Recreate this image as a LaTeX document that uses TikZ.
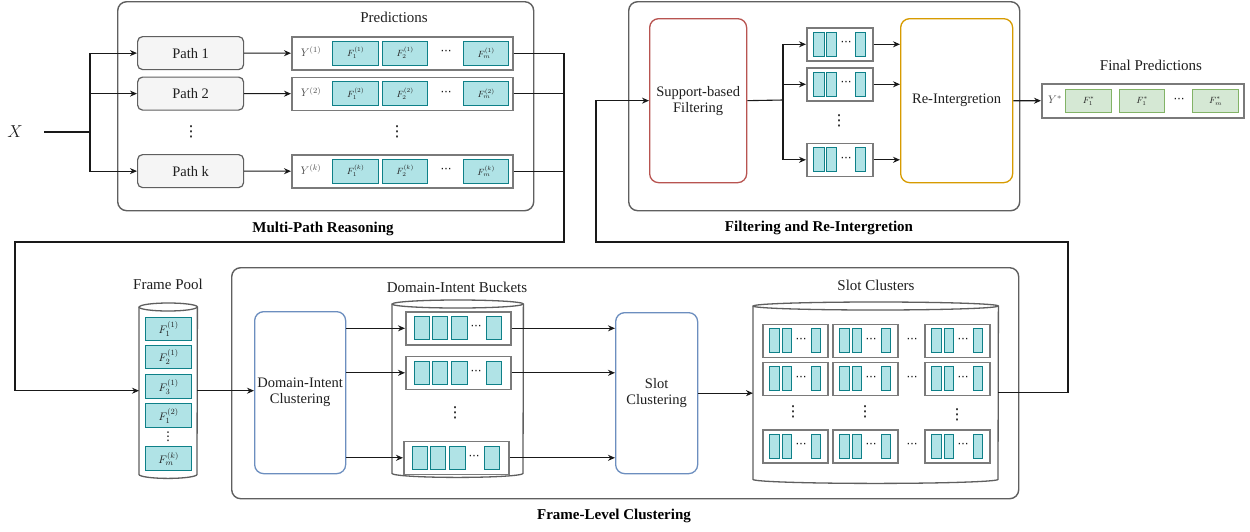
\documentclass[tikz,border=0pt]{standalone}
\usepackage{fontspec}
\setmainfont{Liberation Serif}
\newfontfamily\dejavu{DejaVu Sans}
\usetikzlibrary{arrows.meta}
\definecolor{grp}{HTML}{5F5F5F}
\definecolor{rowc}{HTML}{7A7A7A}
\definecolor{tealf}{HTML}{B0E3E6}
\definecolor{teald}{HTML}{0E8088}
\definecolor{grnf}{HTML}{D5E8D4}
\definecolor{grnd}{HTML}{82B366}
\definecolor{redd}{HTML}{B85450}
\definecolor{orad}{HTML}{D79B00}
\definecolor{blud}{HTML}{6C8EBF}
\definecolor{grayf}{HTML}{F5F5F5}
\newcommand\mybox[7]{\node[#6, anchor=north west, minimum width={((#4)-(#2))*1pt}, minimum height={((#5)-(#3))*1pt}, inner sep=0pt] (#1) at ({#2},{#3}) {#7};}
\newcommand\cyl[3]{%
\draw[cylst] (#1.north west) -- (#1.south west) arc[start angle=180,end angle=360,x radius=#2pt,y radius=#3pt] -- (#1.north east) arc[start angle=0,end angle=180,x radius=#2pt,y radius=#3pt] -- cycle;
\draw[cylst,fill=none] (#1.north west) arc[start angle=180,end angle=360,x radius=#2pt,y radius=#3pt];}
\begin{document}
\begin{tikzpicture}[x=1pt,y=-1pt,
 every node/.style={font=\fontsize{14.5}{16}\selectfont, text=black!88},
 group/.style={draw=grp, line width=1.4pt, rounded corners=9pt},
 pathbox/.style={draw=grp, fill=grayf, line width=1.2pt, rounded corners=5pt},
 rowbox/.style={draw=rowc, line width=1.6pt, fill=white},
 tcell/.style={draw=teald, fill=tealf, line width=1.3pt, font=\fontsize{9}{10}\selectfont},
 pcell/.style={draw=teald, fill=tealf, line width=1.3pt, font=\fontsize{11}{12}\selectfont},
 gcell/.style={draw=grnd, fill=grnf, line width=1.3pt, font=\fontsize{9}{10}\selectfont},
 redbox/.style={draw=redd, line width=1.3pt, rounded corners=9pt, align=center},
 orabox/.style={draw=orad, line width=1.3pt, rounded corners=9pt, align=center},
 bluebox/.style={draw=blud, line width=1.3pt, rounded corners=9pt, align=center},
 inv/.style={},
 conn/.style={line width=1.1pt, draw=black!90},
 arr/.style={conn, -{Stealth[length=7pt,width=6pt]}},
 cylst/.style={draw=grp, line width=1.3pt, fill=white},
 ttl/.style={font=\fontsize{15}{17}\selectfont\bfseries, text=black},
 lbl/.style={font=\fontsize{15}{17}\selectfont},
 ymath/.style={font=\fontsize{11}{12}\selectfont, text=black!70},
 dts/.style={font=\dejavu\fontsize{11}{11}\selectfont, text=black, inner sep=0pt},
 vdt/.style={font=\dejavu\fontsize{15}{15}\selectfont, text=black, inner sep=0pt},
]
\useasboundingbox[fill=white] (0,0) rectangle (1250,531);

% ---------------- Multi-Path Reasoning ----------------
\mybox{mp}{117}{1}{533}{210}{group}{}
\node[lbl] (predl) at (394,17) {Predictions};
\node[ttl] (mpl) at (323,229) {Multi-Path Reasoning};
\node[font=\fontsize{16}{17}\selectfont] (X) at (15,132) {$X$};
\coordinate (xs) at (44,132);
\coordinate (xb) at (90,132);
\draw[conn] (xs) -- (xb);
\foreach \n/\cy/\s in {1/52.5/1, 2/93/2, k/170.5/k} {
  \mybox{p\n}{137}{\cy-16.5}{243}{\cy+16.5}{pathbox}{Path \n}
  \mybox{r\n}{291}{\cy-16.5}{512}{\cy+16.5}{rowbox}{}
  \node[ymath] (y\n) at (311,\cy-1) {$Y^{(\s)}$};
  \mybox{f\n-1}{332}{\cy-12}{378}{\cy+12}{tcell}{$F_1^{(\s)}$}
  \mybox{f\n-2}{382}{\cy-12}{427}{\cy+12}{tcell}{$F_2^{(\s)}$}
  \node[dts] (d\n) at (446,\cy) {⋯};
  \mybox{f\n-m}{463}{\cy-12}{508}{\cy+12}{tcell}{$F_m^{(\s)}$}
  \draw[arr] (xb) |- (p\n);
  \draw[arr] (p\n) -- (r\n);
}
\node[vdt] (pv) at (191,132) {⋮};
\node[vdt] (rv) at (397,132) {⋮};

% to frame pool
\coordinate (mr) at (564,242);
\coordinate (ml) at (15,242);
\draw[conn] (r1.east) -| (mr);
\draw[conn] (r2.east) -| (mr);

% ---------------- Filtering and Re-Intergretion ----------------
\mybox{fr}{628}{1}{1019}{210}{group}{}
\node[ttl] (frl) at (819,228) {Filtering and Re-Intergretion};
\mybox{sf}{649}{18}{746}{182}{redbox}{Support-based\\Filtering}
\mybox{ri}{900}{18}{1012}{182}{orabox}{Re-Intergretion}
\coordinate (sb) at (783,100);
\draw[conn] (sf.east) -- (sb);
\foreach \n/\cy in {1/43.5, 2/83.5, k/159} {
  \mybox{s\n}{806}{\cy-16.5}{872}{\cy+16.5}{rowbox}{}
  \mybox{s\n-a}{813}{\cy-12}{824}{\cy+12}{tcell}{}
  \mybox{s\n-b}{826}{\cy-12}{836}{\cy+12}{tcell}{}
  \node[dts] (s\n-d) at (846,\cy) {⋯};
  \mybox{s\n-c}{855}{\cy-12}{865}{\cy+12}{tcell}{}
  \draw[arr] (sb) |- (s\n);
  \draw[arr] (s\n.east) -- (s\n.east -| ri.west);
}
\node[vdt] (sv) at (839,121) {⋮};

% final predictions
\node[lbl] (fpl) at (1151,65) {Final Predictions};
\mybox{fp}{1041}{83}{1243}{117}{rowbox}{}
\node[ymath] (ys) at (1055,100) {$Y^{*}$};
\mybox{g1}{1065}{89}{1111}{112}{gcell}{$F_1^{*}$}
\mybox{g2}{1119}{89}{1164}{112}{gcell}{$F_1^{*}$}
\node[dts] (gd) at (1179,100) {⋯};
\mybox{gm}{1192}{89}{1238}{112}{gcell}{$F_m^{*}$}
\draw[arr] (ri) -- (fp);

% ---------------- Frame-Level Clustering ----------------
\mybox{fl}{231}{267}{1018}{498}{group}{}
\node[ttl] (fll) at (614,516) {Frame-Level Clustering};

% frame pool
\node[lbl] (fpool) at (168,284) {Frame Pool};
\mybox{pool}{139}{307}{197}{474}{inv}{}
\cyl{pool}{29}{4}
\mybox{q1}{145}{317}{191}{340}{pcell}{$F_1^{(1)}$}
\mybox{q2}{145}{345}{191}{368}{pcell}{$F_2^{(1)}$}
\mybox{q3}{145}{374}{191}{398}{pcell}{$F_3^{(1)}$}
\mybox{q4}{145}{403}{191}{427}{pcell}{$F_1^{(2)}$}
\node[vdt, font=\dejavu\fontsize{12}{12}\selectfont] (qv) at (168,437) {⋮};
\mybox{q5}{145}{446}{191}{470}{pcell}{$F_m^{(k)}$}
\draw[arr] (rk.east) -| (mr) -| (ml) |- (pool.west);

% domain-intent clustering
\mybox{dic}{254}{311}{345}{473}{bluebox}{Domain-Intent\\Clustering}
\draw[arr] (pool.east) -- (pool.east -| dic.west);

% buckets
\node[lbl] (dbl) at (457,287) {Domain-Intent Buckets};
\mybox{db}{392}{304}{523}{473}{inv}{}
\cyl{db}{65.5}{4}
\mybox{scl}{615}{312}{697}{473}{bluebox}{Slot\\Clustering}
\foreach \n/\x/\cy in {1/405/327.5, 2/405/372, k/403/457} {
  \mybox{b\n}{\x}{\cy-16.5}{\x+105}{\cy+16.5}{rowbox}{}
  \mybox{b\n-a}{\x+9}{\cy-11.5}{\x+24}{\cy+11.5}{tcell}{}
  \mybox{b\n-b}{\x+27}{\cy-11.5}{\x+42}{\cy+11.5}{tcell}{}
  \mybox{b\n-c}{\x+46}{\cy-11.5}{\x+62}{\cy+11.5}{tcell}{}
  \node[dts] (b\n-d) at (\x+71,\cy) {⋯};
  \mybox{b\n-e}{\x+81}{\cy-11.5}{\x+96}{\cy+11.5}{tcell}{}
  \draw[arr] (dic.east |- b\n) -- (b\n.west);
  \draw[arr] (b\n.east) -- (b\n.east -| scl.west);
}
\node[vdt] (bv) at (455,413) {⋮};

% slot clusters
\node[lbl] (scll) at (876,285) {Slot Clusters};
\mybox{sc}{753}{306}{998}{479}{inv}{}
\cyl{sc}{122.5}{4}
\draw[arr] (scl.east) -- (scl.east -| sc.west);
\foreach \r/\cy in {1/340, 2/378, 3/445.5} {
  \foreach \c/\x in {1/762, 2/832, 3/924} {
    \mybox{c\r\c}{\x}{\cy-16.5}{\x+65}{\cy+16.5}{rowbox}{}
    \mybox{c\r\c a}{\x+7}{\cy-12}{\x+17}{\cy+12}{tcell}{}
    \mybox{c\r\c b}{\x+20}{\cy-12}{\x+29}{\cy+12}{tcell}{}
    \node[dts] (c\r\c d) at (\x+39,\cy) {⋯};
    \mybox{c\r\c e}{\x+49}{\cy-12}{\x+58}{\cy+12}{tcell}{}
  }
  \node[dts] (cd\r) at (912,\cy) {⋯};
}
\node[vdt] (cv1) at (793,412) {⋮};
\node[vdt] (cv2) at (865,412) {⋮};
\node[vdt] (cv3) at (957,415) {⋮};

% feedback
\coordinate (fb2) at (1068,242);
\coordinate (fb3) at (596,242);
\draw[arr] (sc.east) -| (fb2) -- (fb3) |- (sf.west);
\end{tikzpicture}
\end{document}
